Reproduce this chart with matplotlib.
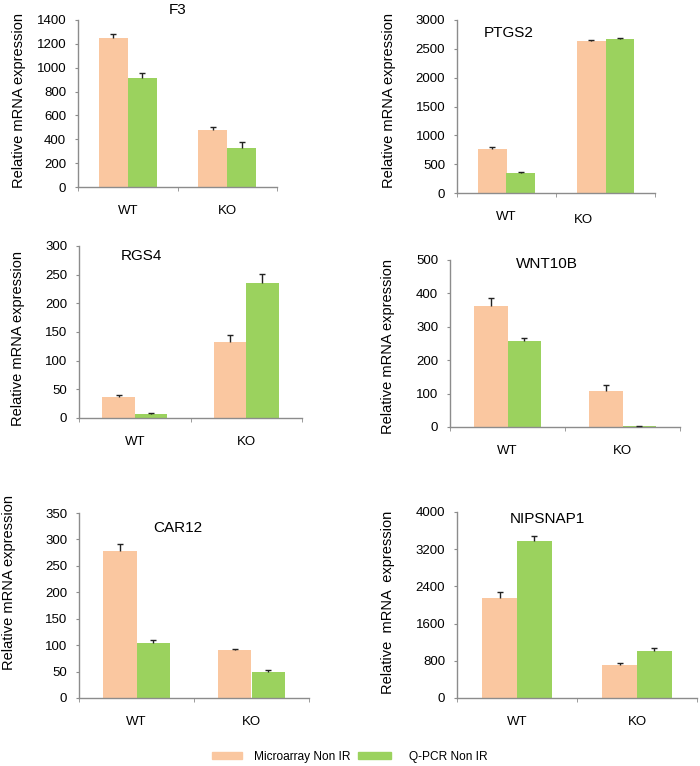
import numpy as np
import matplotlib
matplotlib.use("Agg")
import matplotlib.pyplot as plt
from matplotlib.patches import Patch

plt.rcParams['font.family'] = ['Liberation Sans', 'DejaVu Sans']

# data
groups = ["WT", "KO"]
genes = ["F3", "PTGS2", "RGS4", "WNT10B", "CAR12", "NIPSNAP1"]

micro_vals = {"F3": [1245, 480], "PTGS2": [760, 2640], "RGS4": [36, 132],
              "WNT10B": [363, 109], "CAR12": [279, 90], "NIPSNAP1": [2140, 714]}
micro_err = {"F3": [40, 20], "PTGS2": [40, 10], "RGS4": [4, 12],
             "WNT10B": [22, 18], "CAR12": [12, 3], "NIPSNAP1": [140, 35]}
qpcr_vals = {"F3": [915, 330], "PTGS2": [355, 2668], "RGS4": [7, 236],
             "WNT10B": [258, 2], "CAR12": [105, 50], "NIPSNAP1": [3385, 1015]}
qpcr_err = {"F3": [40, 45], "PTGS2": [5, 25], "RGS4": [1, 15],
            "WNT10B": [7, 1], "CAR12": [5, 3], "NIPSNAP1": [100, 70]}
y_max = {"F3": 1400, "PTGS2": 3000, "RGS4": 300, "WNT10B": 500, "CAR12": 350, "NIPSNAP1": 4000}
y_step = {"F3": 200, "PTGS2": 500, "RGS4": 50, "WNT10B": 100, "CAR12": 50, "NIPSNAP1": 800}

series_labels = ["Microarray Non IR", "Q-PCR Non IR"]

c_micro = '#FAC7A0'
c_qpcr = '#9BD25E'
spine_c = '#8c8c8c'
err_c = '#222222'

W, H = 700, 766
fig = plt.figure(figsize=(W / 100, H / 100), dpi=100)

# axes boxes in pixels: left, right, top, bottom
boxes = {"F3": (78, 277, 20, 187), "PTGS2": (457, 655, 20, 193),
         "RGS4": (79, 302, 246, 418), "WNT10B": (450, 680, 260, 427),
         "CAR12": (79, 309, 513, 698), "NIPSNAP1": (457, 697, 512, 698)}
# title positions inside axes (axes fraction); None -> title above
title_pos = {"F3": None, "PTGS2": (0.26, 0.925), "RGS4": (0.28, 0.94),
             "WNT10B": (0.42, 0.976), "CAR12": (0.43, 0.92), "NIPSNAP1": (0.375, 0.96)}
ylabel_px = {"F3": (19, 100), "PTGS2": (389, 100), "RGS4": (18, 339),
             "WNT10B": (388, 347), "CAR12": (9, 582), "NIPSNAP1": (388, 602)}

width = 0.29
x = np.arange(len(groups))


def draw_err(ax, xpos, vals, errs):
    vals = np.asarray(vals)
    errs = np.asarray(errs)
    ax.vlines(xpos, vals, vals + errs, color=err_c, lw=1, zorder=3)
    ax.plot(xpos, vals + errs, ls='none', marker='_', ms=5, mew=1, color=err_c, zorder=3)


for g in genes:
    l, r, t, b = boxes[g]
    ax = fig.add_axes([l / W, 1 - b / H, (r - l) / W, (b - t) / H])
    m = micro_vals[g]
    q = qpcr_vals[g]
    ax.bar(x - width / 2, m, width, color=c_micro, zorder=2)
    ax.bar(x + width / 2, q, width, color=c_qpcr, zorder=2)
    draw_err(ax, x - width / 2, m, micro_err[g])
    draw_err(ax, x + width / 2, q, qpcr_err[g])

    ax.set_xlim(-0.5, 1.5)
    ax.set_ylim(0, y_max[g])
    ax.set_yticks(np.arange(0, y_max[g] + 1, y_step[g]))
    ax.set_xticks(x)
    ax.set_xticklabels(groups)
    ax.set_xticks([-0.5, 0.5, 1.5], minor=True)
    ax.tick_params(axis='x', which='major', length=0, pad=13, labelsize=9.5)
    ax.tick_params(axis='x', which='minor', length=3, direction='out', color=spine_c)
    ax.tick_params(axis='y', length=2.5, direction='out', color=spine_c, labelsize=9.5, pad=6)
    for s in ['top', 'right']:
        ax.spines[s].set_visible(False)
    for s in ['left', 'bottom']:
        ax.spines[s].set_color(spine_c)
        ax.spines[s].set_linewidth(1)

    if g == "PTGS2":
        lbls = ax.get_xticklabels()
        lbls[1].set_visible(False)
        ax.text(0.64, -0.155, "KO", transform=ax.transAxes, ha='center', va='center', fontsize=9.5)

    label = "Relative  mRNA  expression" if g == "NIPSNAP1" else "Relative mRNA expression"
    ax.set_ylabel(label, fontsize=10.5, va='center')
    lx, ly = ylabel_px[g]
    ax.yaxis.set_label_coords((lx - l) / (r - l), (b - ly) / (b - t))

    if title_pos[g] is None:
        ax.set_title(g, fontsize=11, pad=4)
    else:
        tx, ty = title_pos[g]
        ax.text(tx, ty, g, transform=ax.transAxes, ha='center', va='center', fontsize=11)

# legend (two pieces, as laid out in the reference)
fig.legend(handles=[Patch(color=c_micro, label=series_labels[0])],
           loc='center left', bbox_to_anchor=(212 / W, 9 / H), frameon=False, borderpad=0,
           borderaxespad=0, fontsize=8.6, handlelength=2.55, handleheight=0.57, handletextpad=0.95)
fig.legend(handles=[Patch(color=c_qpcr, label=series_labels[1])],
           loc='center left', bbox_to_anchor=(358 / W, 9 / H), frameon=False, borderpad=0,
           borderaxespad=0, fontsize=8.6, handlelength=2.8, handleheight=0.57, handletextpad=1.5)

fig.savefig("out.png", dpi=100)
